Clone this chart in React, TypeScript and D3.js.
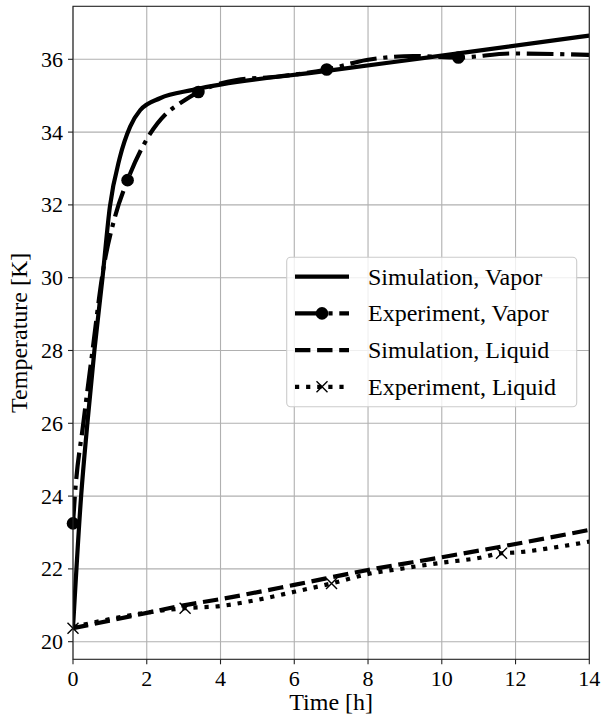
import * as d3 from 'd3'

// time [h] / temperature [K]
const simVaporT = [0, 0.22, 0.39, 0.58, 0.8, 1.0, 1.27, 1.55, 1.82, 2.36, 3.26, 6.88, 10, 14]
const simVaporY = [20.38, 24.0, 26.0, 28.0, 30.0, 31.95, 33.3, 34.15, 34.6, 34.93, 35.16, 35.68, 36.1, 36.65]

const expVaporT = [0, 0.05, 0.28, 0.53, 0.8, 1.14, 1.48, 2.04, 2.54, 2.9, 3.4, 4.44, 5.5, 6.0, 6.88, 7.96, 8.3, 9.22, 10.45, 11.9, 14]
const expVaporY = [23.25, 24.0, 26.0, 28.0, 30.1, 31.68, 32.68, 33.87, 34.52, 34.79, 35.1, 35.43, 35.52, 35.58, 35.72, 35.98, 36.03, 36.09, 36.05, 36.16, 36.12]
const expVaporMarkT = [0, 1.48, 3.4, 6.88, 10.45]
const expVaporMarkY = [23.25, 32.68, 35.1, 35.72, 36.05]

const simLiquidT = [0, 1, 2, 3, 4, 6, 8, 10, 11.6, 14]
const simLiquidY = [20.37, 20.58, 20.79, 21.0, 21.17, 21.56, 21.97, 22.32, 22.61, 23.07]

const expLiquidT = [0, 1, 2, 3.04, 4, 5, 6, 7.01, 8, 9, 10, 11, 11.62, 12, 13, 14]
const expLiquidY = [20.4, 20.62, 20.8, 20.92, 20.98, 21.15, 21.37, 21.6, 21.86, 22.02, 22.17, 22.3, 22.43, 22.45, 22.58, 22.75]
const expLiquidMarkT = [0, 3.04, 7.01, 11.62]
const expLiquidMarkY = [20.37, 20.92, 21.6, 22.43]

const xTicks = [0, 2, 4, 6, 8, 10, 12, 14]
const yTicks = [20, 22, 24, 26, 28, 30, 32, 34, 36]
const legendLabels = ['Simulation, Vapor', 'Experiment, Vapor', 'Simulation, Liquid', 'Experiment, Liquid']

const W = 605
const H = 727
const m = { left: 73, right: 589.3, top: 6.3, bottom: 659.3 }
const font = '"Liberation Serif", "Times New Roman", serif'

const zip = (t: number[], y: number[]) => t.map((v, i) => [v, y[i]] as [number, number])

export default function App() {
  const x = d3.scaleLinear().domain([0, 14]).range([m.left, m.right])
  const y = d3.scaleLinear().domain([19.516, 37.456]).range([m.bottom, m.top])

  const line = d3
    .line<[number, number]>()
    .x(d => x(d[0]))
    .y(d => y(d[1]))
    .curve(d3.curveMonotoneX)

  const series = [
    { d: line(zip(simVaporT, simVaporY)) ?? '', dash: undefined },
    { d: line(zip(expVaporT, expVaporY)) ?? '', dash: '26.7 6.7 4.2 6.7' },
    { d: line(zip(simLiquidT, simLiquidY)) ?? '', dash: '15.4 6.7' },
    { d: line(zip(expLiquidT, expLiquidY)) ?? '', dash: '4.2 6.9' },
  ]

  const cross = (cx: number, cy: number, s = 5.5) =>
    `M${cx - s},${cy - s}L${cx + s},${cy + s}M${cx - s},${cy + s}L${cx + s},${cy - s}`

  const lg = { x: 286.7, y: 257.3, w: 290, h: 149.4 }
  const rowY = (i: number) => 276.7 + i * 36.7
  const hx0 = 295
  const hx1 = 349

  return (
    <svg width={W} height={H} style={{ position: 'absolute', left: 0, top: 0, background: '#fff' }}>
      <defs>
        <clipPath id="plot">
          <rect x={m.left} y={m.top} width={m.right - m.left} height={m.bottom - m.top} />
        </clipPath>
      </defs>
      {/* grid */}
      <g stroke="#b0b0b0" strokeWidth={1.1}>
        {xTicks.map(t => (
          <line key={'gx' + t} x1={x(t)} x2={x(t)} y1={m.top} y2={m.bottom} />
        ))}
        {yTicks.map(t => (
          <line key={'gy' + t} x1={m.left} x2={m.right} y1={y(t)} y2={y(t)} />
        ))}
      </g>

      <g clipPath="url(#plot)" fill="none" stroke="#000" strokeWidth={4.2}>
        {series.map((s, i) => (
          <path key={i} d={s.d} strokeDasharray={s.dash} strokeLinecap="butt" />
        ))}
      </g>
      {expVaporMarkT.map((t, i) => (
        <circle key={'mv' + i} cx={x(t)} cy={y(expVaporMarkY[i])} r={6.3} fill="#000" />
      ))}
      {expLiquidMarkT.map((t, i) => (
        <path key={'ml' + i} d={cross(x(t), y(expLiquidMarkY[i]))} stroke="#000" strokeWidth={1.4} fill="none" />
      ))}

      {/* spines */}
      <rect x={m.left} y={m.top} width={m.right - m.left} height={m.bottom - m.top} fill="none" stroke="#222" strokeWidth={1.1} />

      {/* ticks */}
      <g stroke="#222" strokeWidth={1.1}>
        {xTicks.map(t => (
          <line key={'tx' + t} x1={x(t)} x2={x(t)} y1={m.bottom} y2={m.bottom + 5} />
        ))}
        {yTicks.map(t => (
          <line key={'ty' + t} x1={m.left - 5} x2={m.left} y1={y(t)} y2={y(t)} />
        ))}
      </g>
      <g fontFamily={font} fontSize={22} fill="#000">
        {xTicks.map(t => (
          <text key={'lx' + t} x={x(t)} y={m.bottom + 27} textAnchor="middle">
            {t}
          </text>
        ))}
        {yTicks.map(t => (
          <text key={'ly' + t} x={m.left - 10} y={y(t) + 7.5} textAnchor="end">
            {t}
          </text>
        ))}
      </g>
      <text x={(m.left + m.right) / 2} y={710} textAnchor="middle" fontFamily={font} fontSize={24}>
        Time [h]
      </text>
      <text
        transform={`translate(27,${(m.top + m.bottom) / 2}) rotate(-90)`}
        textAnchor="middle"
        fontFamily={font}
        fontSize={24}
      >
        Temperature [K]
      </text>

      {/* legend */}
      <rect x={lg.x} y={lg.y} width={lg.w} height={lg.h} rx={4} fill="#fff" fillOpacity={0.8} stroke="#cccccc" strokeWidth={1.1} />
      {legendLabels.map((label, i) => (
        <g key={label}>
          <line
            x1={hx0}
            x2={hx1}
            y1={rowY(i)}
            y2={rowY(i)}
            stroke="#000"
            strokeWidth={4.2}
            strokeDasharray={series[i].dash}
          />
          {i === 1 && <circle cx={(hx0 + hx1) / 2} cy={rowY(i)} r={6.3} fill="#000" />}
          {i === 3 && (
            <path d={cross((hx0 + hx1) / 2, rowY(i))} stroke="#000" strokeWidth={1.4} fill="none" />
          )}
          <text x={368} y={rowY(i) + 8} fontFamily={font} fontSize={24}>
            {label}
          </text>
        </g>
      ))}
    </svg>
  )
}
